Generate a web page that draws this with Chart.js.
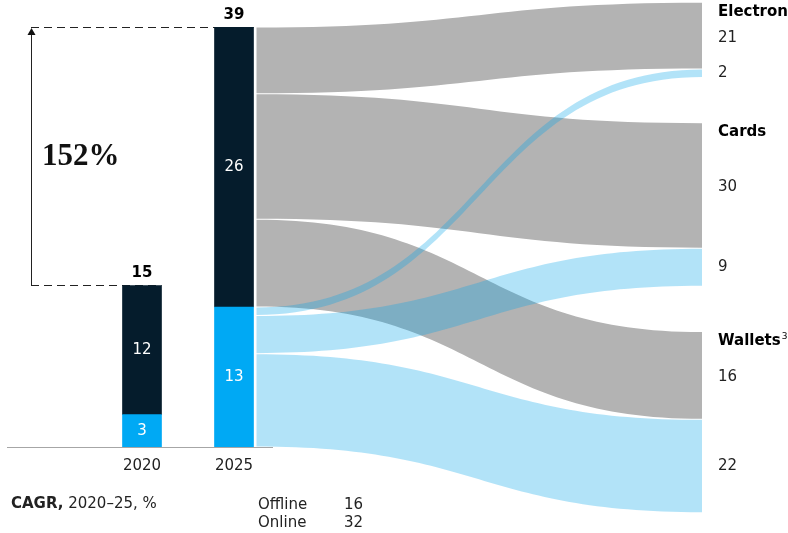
<!DOCTYPE html>
<html>
<head>
<meta charset="utf-8">
<script src="https://cdn.jsdelivr.net/npm/chart.js@4.4.1/dist/chart.umd.min.js"></script>
<style>
  html, body { margin: 0; padding: 0; background: #fff; }
  #wrap { width: 788px; height: 533px; }
</style>
</head>
<body>
<div id="wrap"><canvas id="grafico" width="788" height="533"></canvas></div>
<script>
// datos
const years = ['2020', '2025'];
const offline = [12, 26];
const online = [3, 13];
const totals = [15, 39];
const growthLabel = '152%';

const segments = ['Electron', 'Cards', 'Wallets'];
const segmentNotes = ['', '', '3'];
const offlineShare = [16, 30, 21];   // grey flow widths as drawn, % of 2025
const onlineShare = [2, 9, 22];      // blue flow widths, % of 2025
const offlineShareLabels = ['21', '30', '16'];
const onlineShareLabels = ['2', '9', '22'];

const cagrTitle = 'CAGR,';
const cagrSub = ' 2020\u201325, %';
const cagrChannels = ['Offline', 'Online'];
const cagrValues = [16, 32];

const NAVY = '#051c2c';
const BLUE = '#00a9f4';
const GREY = '#b3b3b3';
const BLUE_FLOW = 'rgba(0,163,232,0.3)';
const SANS = '"DejaVu Sans", sans-serif';

function sum(a) {
    return a.reduce(function (s, v) { return s + v; }, 0);
}

function band(ctx, x0, x1, t0, b0, t1, b1) {
    const xm = (x0 + x1) / 2;
    ctx.beginPath();
    ctx.moveTo(x0, t0);
    ctx.bezierCurveTo(xm, t0, xm, t1, x1, t1);
    ctx.lineTo(x1, b1);
    ctx.bezierCurveTo(xm, b1, xm, b0, x0, b0);
    ctx.closePath();
    ctx.fill();
}

const decoraciones = {
    id: 'decoraciones',
    beforeDatasetsDraw: function (chart) {
        const ctx = chart.ctx;
        const y = chart.scales.y;
        const bars = chart.getDatasetMeta(1).data;
        const arrowX = 31;
        const yLow = y.getPixelForValue(totals[0]);
        const yHigh = y.getPixelForValue(totals[1]);

        ctx.save();
        // linea base
        ctx.strokeStyle = '#a6a6a6';
        ctx.lineWidth = 1;
        ctx.beginPath();
        ctx.moveTo(7, y.getPixelForValue(0) + 0.5);
        ctx.lineTo(273, y.getPixelForValue(0) + 0.5);
        ctx.stroke();

        // guias punteadas
        ctx.strokeStyle = '#222';
        ctx.setLineDash([8, 5]);
        ctx.beginPath();
        ctx.moveTo(arrowX, Math.round(yLow) + 0.5);
        ctx.lineTo(bars[0].x + bars[0].width / 2, Math.round(yLow) + 0.5);
        ctx.moveTo(arrowX, Math.round(yHigh) + 0.5);
        ctx.lineTo(bars[1].x + bars[1].width / 2, Math.round(yHigh) + 0.5);
        ctx.stroke();
        ctx.setLineDash([]);

        // flecha
        ctx.beginPath();
        ctx.moveTo(arrowX + 0.5, yLow);
        ctx.lineTo(arrowX + 0.5, yHigh + 6);
        ctx.stroke();
        ctx.fillStyle = '#111';
        ctx.beginPath();
        ctx.moveTo(arrowX + 0.5, yHigh + 1);
        ctx.lineTo(arrowX - 3.5, yHigh + 8);
        ctx.lineTo(arrowX + 4.5, yHigh + 8);
        ctx.closePath();
        ctx.fill();

        ctx.font = 'bold 31px "Liberation Serif", serif';
        ctx.textBaseline = 'middle';
        ctx.textAlign = 'left';
        ctx.fillText(growthLabel, 42, 157);
        ctx.restore();
    },
    afterDatasetsDraw: function (chart) {
        const ctx = chart.ctx;
        const y = chart.scales.y;
        const bar = chart.getDatasetMeta(1).data[1];
        const x0 = bar.x + bar.width / 2 + 3;
        const x1 = 702;
        const labelX = 718;
        const nodeGap = 4.2;
        let rightCursor = totals[1] + 2.3;

        const greyUnits = offlineShare.map(function (s) { return s / sum(offlineShare) * offline[1]; });
        const blueUnits = onlineShare.map(function (s) { return s / sum(onlineShare) * online[1]; });

        // lado izquierdo
        let leftCursor = totals[1];
        const leftGrey = [], leftBlue = [];
        greyUnits.forEach(function (u) { leftGrey.push([leftCursor, leftCursor - u]); leftCursor -= u; });
        blueUnits.forEach(function (u) { leftBlue.push([leftCursor, leftCursor - u]); leftCursor -= u; });

        // lado derecho
        const rightGrey = [], rightBlue = [], groupTop = [];
        segments.forEach(function (s, i) {
            groupTop.push(rightCursor);
            rightGrey.push([rightCursor, rightCursor - greyUnits[i]]);
            rightCursor -= greyUnits[i];
            rightBlue.push([rightCursor, rightCursor - blueUnits[i]]);
            rightCursor -= blueUnits[i] + nodeGap;
        });

        ctx.save();
        ctx.fillStyle = GREY;
        segments.forEach(function (s, i) {
            band(ctx, x0, x1,
                y.getPixelForValue(leftGrey[i][0]) + 0.5, y.getPixelForValue(leftGrey[i][1]) - 0.5,
                y.getPixelForValue(rightGrey[i][0]) + 0.5, y.getPixelForValue(rightGrey[i][1]) - 0.5);
        });
        ctx.fillStyle = BLUE_FLOW;
        segments.forEach(function (s, i) {
            band(ctx, x0, x1,
                y.getPixelForValue(leftBlue[i][0]) + 0.5, y.getPixelForValue(leftBlue[i][1]) - 0.5,
                y.getPixelForValue(rightBlue[i][0]) + 0.5, y.getPixelForValue(rightBlue[i][1]) - 0.5);
        });

        // valores en barras
        ctx.textAlign = 'center';
        ctx.textBaseline = 'middle';
        ctx.fillStyle = '#fff';
        ctx.font = '15px ' + SANS;
        chart.data.datasets.forEach(function (ds, di) {
            chart.getDatasetMeta(di).data.forEach(function (el, i) {
                ctx.fillText(String(ds.data[i]), el.x, (el.y + el.base) / 2);
            });
        });
        ctx.fillStyle = '#000';
        ctx.font = 'bold 15px ' + SANS;
        chart.getDatasetMeta(1).data.forEach(function (el, i) {
            ctx.fillText(String(totals[i]), el.x, el.y - 12);
        });

        // etiquetas derecha
        ctx.textAlign = 'left';
        segments.forEach(function (s, i) {
            ctx.fillStyle = '#000';
            ctx.font = 'bold 15px ' + SANS;
            ctx.textBaseline = 'top';
            const ty = Math.max(y.getPixelForValue(groupTop[i]) + 2, 0);
            ctx.fillText(s, labelX, ty);
            if (segmentNotes[i]) {
                const w = ctx.measureText(s).width;
                ctx.font = '9px ' + SANS;
                ctx.fillText(segmentNotes[i], labelX + w + 1, ty - 1);
            }
            ctx.fillStyle = '#222';
            ctx.font = '15px ' + SANS;
            ctx.textBaseline = 'middle';
            ctx.fillText(offlineShareLabels[i], labelX,
                (y.getPixelForValue(rightGrey[i][0]) + y.getPixelForValue(rightGrey[i][1])) / 2 + 2);
            ctx.fillText(onlineShareLabels[i], labelX,
                (y.getPixelForValue(rightBlue[i][0]) + y.getPixelForValue(rightBlue[i][1])) / 2);
        });

        // nota CAGR
        ctx.fillStyle = '#222';
        ctx.textBaseline = 'middle';
        ctx.font = 'bold 15px ' + SANS;
        ctx.fillText(cagrTitle, 11, 504);
        const tw = ctx.measureText(cagrTitle).width;
        ctx.font = '15px ' + SANS;
        ctx.fillText(cagrSub, 11 + tw, 504);
        cagrChannels.forEach(function (c, i) {
            ctx.textAlign = 'left';
            ctx.fillText(c, 258, 505 + i * 18);
            ctx.textAlign = 'right';
            ctx.fillText(String(cagrValues[i]), 363, 505 + i * 18);
        });
        ctx.restore();
    }
};

window.addEventListener('load', function () {
    const ctxGrafico = document.getElementById('grafico');
    if (!ctxGrafico || typeof Chart === 'undefined') {
        return;
    }
    new Chart(ctxGrafico, {
        type: 'bar',
        data: {
            labels: years,
            datasets: [{
                label: 'Online',
                data: online,
                backgroundColor: BLUE,
                borderWidth: 0,
                barThickness: 39
            }, {
                label: 'Offline',
                data: offline,
                backgroundColor: NAVY,
                borderWidth: 0,
                barThickness: 39
            }]
        },
        options: {
            responsive: false,
            animation: false,
            layout: {
                padding: { left: 96, right: 508, top: 27, bottom: 48 }
            },
            plugins: {
                legend: { display: false },
                tooltip: { enabled: false }
            },
            scales: {
                x: {
                    stacked: true,
                    grid: { display: false, drawTicks: false },
                    border: { display: false },
                    ticks: {
                        color: '#222',
                        padding: 10,
                        font: { family: SANS, size: 15 }
                    }
                },
                y: {
                    stacked: true,
                    display: false,
                    min: 0,
                    max: Math.max.apply(null, totals)
                }
            }
        },
        plugins: [decoraciones]
    });
});
</script>
</body>
</html>
